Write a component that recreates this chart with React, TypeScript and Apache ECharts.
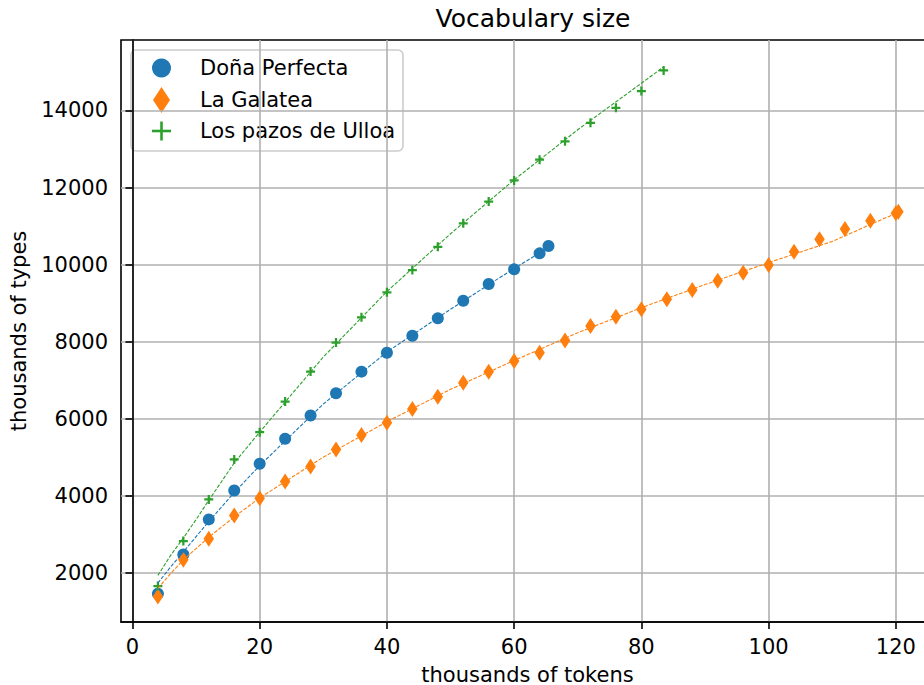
import React, { useEffect, useRef } from "react";
import * as echarts from "echarts";

const chartTitle = "Vocabulary size";
const xAxisName = "thousands of tokens";
const yAxisName = "thousands of types";
const seriesNames = ["Doña Perfecta", "La Galatea", "Los pazos de Ulloa"];
const colors = ["#1f77b4", "#ff7f0e", "#2ca02c"];

const xTicks = [0, 20, 40, 60, 80, 100, 120];
const yTicks = [2000, 4000, 6000, 8000, 10000, 12000, 14000];

// Doña Perfecta (observed)
const dpX = [4, 8, 12, 16, 20, 24, 28, 32, 36, 40, 44, 48, 52, 56, 60, 64, 65.4];
const dpY = [1455, 2475, 3383, 4135, 4827, 5476, 6080, 6659, 7219, 7712, 8153, 8604, 9061, 9494, 9875, 10291, 10480];
// Doña Perfecta (fitted curve)
const dpFitX = [4, 6, 8, 12, 16, 20, 30, 40, 50, 60, 65.4];
const dpFitY = [1730, 2150, 2540, 3330, 4080, 4780, 6380, 7730, 8840, 9900, 10440];

// La Galatea (observed)
const lgX = [4, 8, 12, 16, 20, 24, 28, 32, 36, 40, 44, 48, 52, 56, 60, 64, 68, 72, 76, 80, 84, 88, 92, 96, 100, 104, 108, 112, 116, 120, 120.4];
const lgY = [1385, 2337, 2882, 3486, 3935, 4368, 4757, 5200, 5577, 5896, 6252, 6571, 6934, 7220, 7497, 7712, 8026, 8407, 8648, 8840, 9100, 9341, 9580, 9790, 9987, 10333, 10654, 10921, 11136, 11330, 11370];
// La Galatea (fitted curve)
const lgFitX = [4, 6, 8, 12, 16, 20, 30, 40, 50, 60, 70, 80, 90, 100, 110, 120.4];
const lgFitY = [1590, 1980, 2330, 2920, 3450, 3940, 5000, 5920, 6760, 7510, 8230, 8880, 9480, 10050, 10600, 11360];

// Los pazos de Ulloa (observed)
const lpX = [4, 8, 12, 16, 20, 24, 28, 32, 36, 40, 44, 48, 52, 56, 60, 64, 68, 72, 76, 80, 83.5];
const lpY = [1652, 2820, 3901, 4939, 5647, 6444, 7222, 7974, 8630, 9279, 9857, 10462, 11072, 11635, 12183, 12722, 13200, 13680, 14070, 14504, 15040];
// Los pazos de Ulloa (fitted curve)
const lpFitX = [4, 6, 8, 10, 12, 16, 20, 30, 40, 50, 60, 70, 83.5];
const lpFitY = [1930, 2450, 2900, 3380, 3880, 4850, 5650, 7600, 9300, 10800, 12200, 13500, 15130];

const FONT = "DejaVu Sans";
const PLUS = "path://M3,0H5V3H8V5H5V8H3V5H0V3H3Z";

function pairs(xs: number[], ys: number[]) {
  return xs.map((x, i) => [x, ys[i]]);
}

export default function App() {
  const ref = useRef<HTMLDivElement>(null);
  useEffect(() => {
    const chart = echarts.init(ref.current!, null, { renderer: "svg" });
    const fitLine = (name: string, data: number[][], color: string) => ({
      name: name + " fit",
      type: "line",
      data,
      showSymbol: false,
      symbol: "none",
      smooth: false,
      lineStyle: { color, width: 1.1, type: [3.7, 1.6] },
      z: 3,
      silent: true,
    });
    const legendText = (text: string, y: number) => ({
      type: "text",
      x: 200,
      y,
      style: { text, fontFamily: FONT, fontSize: 21, fill: "#000", textVerticalAlign: "middle" },
    });
    chart.setOption({
      animation: false,
      backgroundColor: "#ffffff",
      textStyle: { fontFamily: FONT },
      title: {
        text: chartTitle,
        left: 528,
        top: 1,
        textAlign: "center",
        textStyle: { fontFamily: FONT, fontSize: 25, fontWeight: "normal", color: "#000" },
      },
      grid: {
        left: 121,
        top: 40,
        width: 813,
        height: 582,
        containLabel: false,
        outerBoundsMode: "none",
        show: true,
        borderColor: "#000",
        borderWidth: 1.6,
        backgroundColor: "transparent",
      },
      xAxis: {
        type: "value",
        min: -1.8,
        max: 126,
        name: xAxisName,
        nameLocation: "middle",
        nameGap: 42,
        nameTextStyle: { fontFamily: FONT, fontSize: 21, color: "#000" },
        axisLine: { show: true, lineStyle: { color: "#000", width: 1.6 } },
        axisTick: { show: true, inside: false, length: 7, lineStyle: { color: "#000", width: 1.6 }, customValues: xTicks },
        axisLabel: { fontFamily: FONT, fontSize: 21, color: "#000", margin: 14, customValues: xTicks, formatter: (v: number) => String(v) },
        splitLine: { show: true, lineStyle: { color: "#b0b0b0", width: 1.6 } },
      },
      yAxis: {
        type: "value",
        min: 720,
        max: 15830,
        name: yAxisName,
        nameLocation: "middle",
        nameGap: 92,
        nameTextStyle: { fontFamily: FONT, fontSize: 21, color: "#000" },
        axisLine: { show: true, lineStyle: { color: "#000", width: 1.6 } },
        axisTick: { show: true, inside: false, length: 7, lineStyle: { color: "#000", width: 1.6 }, customValues: yTicks },
        axisLabel: { fontFamily: FONT, fontSize: 21, color: "#000", margin: 13, customValues: yTicks, formatter: (v: number) => String(v) },
        splitLine: { show: true, lineStyle: { color: "#b0b0b0", width: 1.6 } },
      },
      series: [
        {
          name: seriesNames[0],
          type: "scatter",
          data: pairs(dpX, dpY),
          symbol: "circle",
          symbolSize: 12,
          itemStyle: { color: colors[0], opacity: 1 },
          z: 2,
        },
        fitLine(seriesNames[0], pairs(dpFitX, dpFitY), colors[0]),
        {
          name: seriesNames[1],
          type: "scatter",
          data: pairs(lgX, lgY),
          symbol: "diamond",
          symbolSize: [10.5, 16],
          itemStyle: { color: colors[1], opacity: 1 },
          z: 2,
        },
        fitLine(seriesNames[1], pairs(lgFitX, lgFitY), colors[1]),
        {
          name: seriesNames[2],
          type: "scatter",
          data: pairs(lpX, lpY),
          symbol: PLUS,
          symbolSize: 9,
          itemStyle: { color: colors[2], opacity: 1 },
          z: 2,
        },
        fitLine(seriesNames[2], pairs(lpFitX, lpFitY), colors[2]),
      ],
      graphic: [
        {
          type: "group",
          z: 100,
          children: [
            {
              type: "rect",
              shape: { x: 131, y: 50, width: 272, height: 101, r: 5 },
              style: { fill: "rgba(255,255,255,0.8)", stroke: "#cccccc", lineWidth: 1.6 },
            },
            { type: "circle", shape: { cx: 161.5, cy: 68, r: 9.5 }, style: { fill: colors[0] } },
            {
              type: "polygon",
              shape: { points: [[161.5, 87], [170, 100], [161.5, 113], [153, 100]] },
              style: { fill: colors[1] },
            },
            { type: "rect", shape: { x: 152, y: 129.7, width: 19, height: 2.6 }, style: { fill: colors[2] } },
            { type: "rect", shape: { x: 160.2, y: 121.5, width: 2.6, height: 19 }, style: { fill: colors[2] } },
            legendText(seriesNames[0], 68),
            legendText(seriesNames[1], 100),
            legendText(seriesNames[2], 131),
          ],
        },
      ],
    });
    return () => chart.dispose();
  }, []);
  return (
    <div style={{ position: "fixed", left: 0, top: 0, width: 924, height: 685, overflow: "hidden", background: "#fff" }}>
      <div ref={ref} style={{ width: 960, height: 685 }} />
    </div>
  );
}
